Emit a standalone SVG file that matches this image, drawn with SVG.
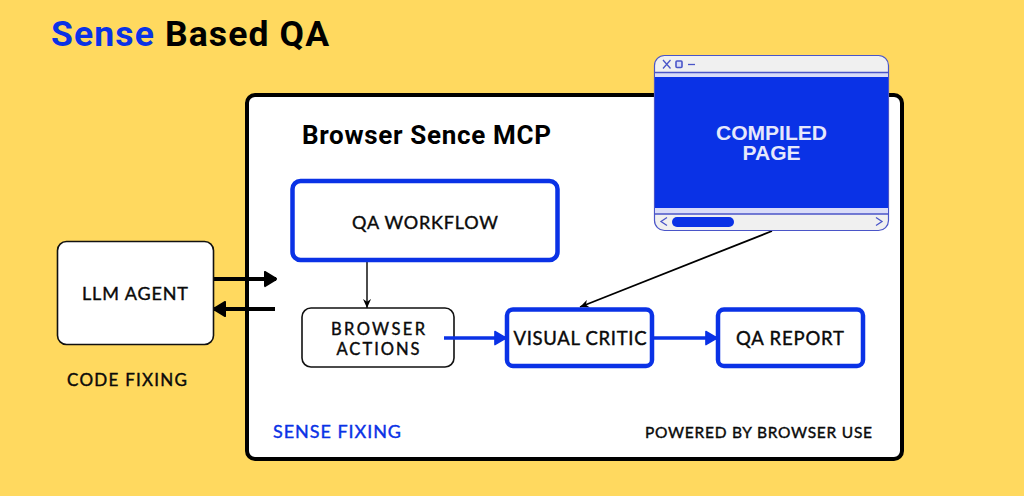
<svg xmlns="http://www.w3.org/2000/svg" width="1024" height="496" viewBox="0 0 1024 496">
<style>
.t{font-family:Roboto,"Noto Sans","Liberation Sans",sans-serif;font-weight:700;fill:#000}
.l{font-family:Lato,"Noto Sans",sans-serif;font-weight:400;fill:#0a0a0a;stroke:#0a0a0a;stroke-width:.4}
.m{text-anchor:middle}
.b{fill:#fff;stroke:#0a32e6;stroke-width:4.5}
.k{fill:#fff;stroke:#111;stroke-width:1.6}
.c{fill:none;stroke-linecap:butt}
.win{fill:#f0f0f0;stroke:#4a55c8;stroke-width:1.2}
.ico{fill:none;stroke:#4a55c8;stroke-width:1.3}
</style>
<defs>
<marker id="ak" viewBox="0 0 10 10" preserveAspectRatio="none" refX="9.500" refY="5" markerWidth="13" markerHeight="17" markerUnits="userSpaceOnUse" orient="auto"><path d="M1 1L9.500 5L1 9z" fill="#000" stroke="#000" stroke-width="1.500" stroke-linejoin="round"/></marker>
<marker id="as" viewBox="0 0 10 10" refX="10" refY="5" markerWidth="9" markerHeight="9" markerUnits="userSpaceOnUse" orient="auto"><path d="M0 0.500L10 5L0 9.500L3 5z" fill="#000"/></marker>
<marker id="ab" viewBox="0 0 10 10" preserveAspectRatio="none" refX="9.500" refY="5" markerWidth="13" markerHeight="16" markerUnits="userSpaceOnUse" orient="auto"><path d="M1 1L9.500 5L1 9z" fill="#0a32e6" stroke="#0a32e6" stroke-width="1.200" stroke-linejoin="round"/></marker>
</defs>
<rect width="1024" height="496" fill="#ffd95f"/>
<text class="t" x="51" y="46" font-size="35.500" textLength="278"><tspan fill="#0a32e6">Sense</tspan> Based QA</text>
<g id="panel">
<rect x="247" y="95" width="655" height="364" rx="8" fill="#fff" stroke="#000" stroke-width="4"/>
<text class="t" x="302" y="144" font-size="26" textLength="249">Browser Sence MCP</text>
<text class="l" x="273" y="438" font-size="18" style="fill:#0a32e6;stroke:#0a32e6" textLength="128">SENSE FIXING</text>
<text class="l" x="645" y="437.500" font-size="15.500" textLength="227">POWERED BY BROWSER USE</text>
</g>
<g id="connectors">
<path class="c" d="M367 261V308" stroke="#000" stroke-width="1.400" marker-end="url(#as)"/>
<path class="c" d="M214 279H276" stroke="#000" stroke-width="4" marker-end="url(#ak)"/>
<path class="c" d="M275 309H214" stroke="#000" stroke-width="4" marker-end="url(#ak)"/>
<path class="c" d="M772 231L580 307" stroke="#000" stroke-width="1.800" marker-end="url(#as)"/>
</g>
<g id="llm-agent">
<rect class="k" x="57.500" y="241.500" width="156" height="103" rx="9"/>
<text class="l m" x="135" y="299.500" font-size="18" textLength="106">LLM AGENT</text>
</g>
<text class="l" x="67" y="386" font-size="17" textLength="120">CODE FIXING</text>
<g id="qa-workflow">
<rect class="b" x="292.500" y="181" width="265" height="79" rx="8"/>
<text class="l m" x="425" y="228.500" font-size="18" textLength="146">QA WORKFLOW</text>
</g>
<g id="browser-actions">
<rect class="k" x="302" y="308" width="152" height="59" rx="9"/>
<text class="l m" x="378" y="334.500" font-size="16.500" textLength="94">BROWSER</text>
<text class="l m" x="378" y="354.500" font-size="16.500" textLength="83">ACTIONS</text>
</g>
<g id="visual-critic">
<rect class="b" x="507" y="309.500" width="145" height="56.500" rx="6"/>
<text class="l m" x="580" y="344.500" font-size="18.500" textLength="133">VISUAL CRITIC</text>
</g>
<g id="qa-report">
<rect class="b" x="718" y="309.500" width="145" height="56.500" rx="6"/>
<text class="l m" x="790" y="344.500" font-size="18.500" textLength="108">QA REPORT</text>
</g>
<g id="blue-connectors">
<path class="c" d="M444 338H506" stroke="#0a32e6" stroke-width="3.500" marker-end="url(#ab)"/>
<path class="c" d="M653 338H717" stroke="#0a32e6" stroke-width="3.500" marker-end="url(#ab)"/>
</g>
<g id="compiled-page">
<rect class="win" x="654.500" y="55.500" width="234" height="175" rx="10"/>
<rect x="655" y="72.500" width="233" height="5" fill="#d9dcf8"/>
<path d="M655 72.500H888" class="ico" stroke-width="1"/>
<rect x="655" y="77" width="233" height="131" fill="#0a32e6"/>
<rect x="655" y="208" width="233" height="6" fill="#d9dcf8"/>
<path d="M655 214H888" class="ico"/>
<path d="M663 60L670.500 68.500M670.500 60L663 68.500" class="ico"/>
<rect x="676" y="61" width="6" height="6.500" rx="1" fill="#d9dcf8" stroke="#4a55c8" stroke-width="1.600"/>
<path d="M688 64.500H695" class="ico"/>
<path d="M667 217.500L661 221.500L667 225.500M876 217.500L882 221.500L876 225.500" class="ico"/>
<rect x="672" y="217" width="62" height="10" rx="5" fill="#0a32e6"/>
<text class="m" x="771.500" y="140" font-family="Liberation Sans, sans-serif" font-weight="700" font-size="20" fill="#e6e8fb" textLength="111" lengthAdjust="spacingAndGlyphs">COMPILED</text>
<text class="m" x="771.500" y="160" font-family="Liberation Sans, sans-serif" font-weight="700" font-size="20" fill="#e6e8fb" textLength="58" lengthAdjust="spacingAndGlyphs">PAGE</text>
</g>
</svg>
